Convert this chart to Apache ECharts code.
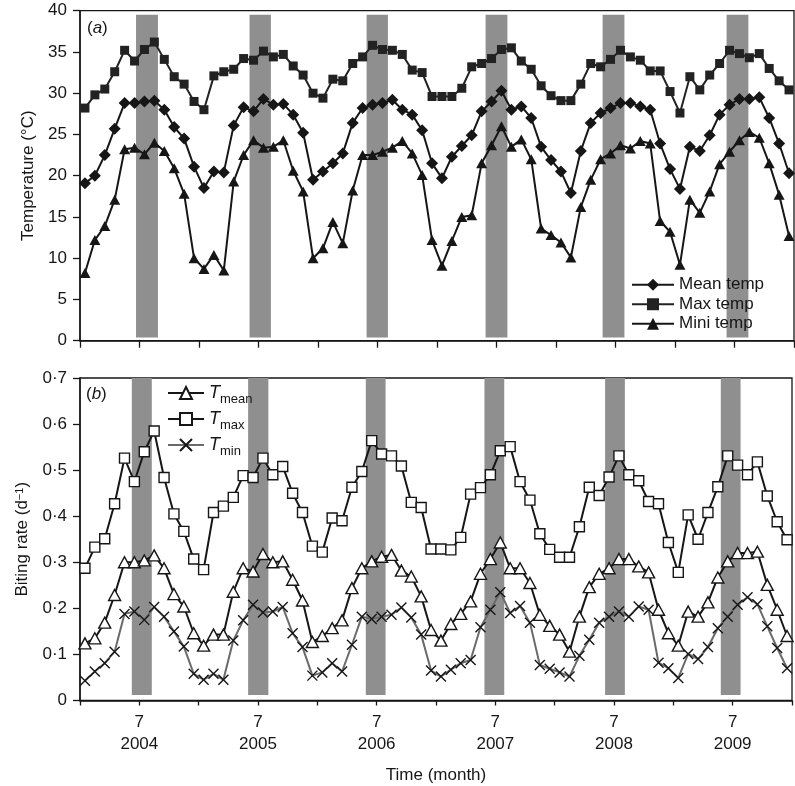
<!DOCTYPE html>
<html><head><meta charset="utf-8">
<script src="https://cdn.jsdelivr.net/npm/echarts@6/dist/echarts.min.js"></script>
<style>html,body{margin:0;padding:0;background:#fff}#c{width:795px;height:786px}</style>
</head><body><div id="c"></div>
<script>
// x axis: Jan 2004 .. Dec 2009 (72 months), labels at July of each year
const years = [2004, 2005, 2006, 2007, 2008, 2009];
const tickMonth = '7';

// Panel (a): temperature (°C)
const meanTemp = [19.1,20.0,22.5,25.7,28.8,28.8,29.0,29.1,28.0,25.9,24.5,21.1,
  18.5,20.5,20.4,26.1,28.3,27.8,29.3,28.6,28.7,27.4,25.2,19.5,
  20.5,21.5,22.7,26.4,28.2,28.6,28.8,29.2,28.0,27.4,25.5,21.5,
  19.7,22.3,23.6,24.9,27.8,29.0,30.3,28.0,28.4,27.0,23.5,21.9,
  20.5,17.9,23.0,26.4,27.6,28.2,28.8,28.8,28.4,28.0,23.9,20.8,
  18.4,23.5,23.0,24.9,27.4,28.6,29.3,29.3,29.5,27.0,23.9,20.3];
const maxTemp = [28.2,29.8,30.5,32.6,35.2,33.9,35.3,36.2,34.1,32.0,31.1,29.0,
  28.0,32.1,32.6,32.9,34.2,34.0,35.1,34.4,34.7,33.3,32.2,30.0,
  29.4,31.7,31.5,33.6,34.4,35.8,35.3,35.2,34.7,32.8,32.5,29.6,
  29.6,29.6,30.6,33.2,33.6,34.2,35.3,35.5,33.9,32.9,30.9,29.7,
  29.1,29.1,31.1,33.6,33.2,34.1,35.2,34.4,34.0,32.7,32.7,30.2,
  27.6,32.0,30.4,32.2,33.6,35.2,34.8,34.3,34.8,33.0,31.5,30.4];
const minTemp = [8.2,12.2,13.9,17.1,23.2,23.4,22.6,24.0,23.0,20.9,17.8,10.0,
  8.7,10.4,8.5,19.3,22.5,24.3,23.4,23.5,24.3,20.6,18.1,10.0,
  11.2,14.4,11.8,18.2,22.5,22.5,22.9,23.4,24.2,22.7,20.1,12.2,
  9.1,12.1,15.0,15.2,21.5,23.7,26.0,23.5,24.4,22.0,13.6,12.8,
  11.9,10.1,16.2,19.5,22.0,22.7,23.7,23.3,24.2,23.9,14.5,13.2,
  9.2,17.1,15.5,18.1,21.4,22.9,24.3,25.3,24.6,21.5,17.7,12.7];

// Panel (b): biting rate (per day)
const biteMean = [0.124,0.135,0.169,0.229,0.300,0.300,0.304,0.315,0.287,0.231,0.204,0.146,
  0.119,0.143,0.143,0.236,0.287,0.280,0.318,0.300,0.302,0.262,0.217,0.127,
  0.140,0.157,0.174,0.244,0.287,0.302,0.312,0.316,0.282,0.269,0.226,0.153,
  0.130,0.166,0.188,0.215,0.275,0.307,0.343,0.287,0.287,0.255,0.186,0.162,
  0.143,0.106,0.182,0.246,0.275,0.287,0.307,0.307,0.291,0.278,0.197,0.146,
  0.119,0.193,0.182,0.213,0.267,0.302,0.320,0.320,0.323,0.251,0.197,0.140];
const biteMax = [0.287,0.333,0.351,0.427,0.526,0.475,0.540,0.585,0.484,0.405,0.367,0.307,
  0.284,0.408,0.422,0.441,0.488,0.484,0.526,0.490,0.508,0.450,0.408,0.335,
  0.322,0.396,0.390,0.463,0.497,0.564,0.535,0.531,0.509,0.430,0.419,0.329,
  0.329,0.327,0.354,0.448,0.462,0.490,0.542,0.551,0.475,0.435,0.362,0.328,
  0.311,0.311,0.377,0.463,0.445,0.485,0.531,0.490,0.477,0.432,0.427,0.343,
  0.278,0.403,0.350,0.408,0.464,0.531,0.511,0.490,0.518,0.444,0.388,0.349];
const biteMin = [0.043,0.063,0.081,0.106,0.188,0.193,0.175,0.203,0.182,0.150,0.117,0.058,
  0.045,0.058,0.045,0.130,0.174,0.208,0.191,0.193,0.203,0.146,0.116,0.054,
  0.061,0.081,0.063,0.121,0.182,0.177,0.182,0.186,0.202,0.180,0.143,0.065,
  0.052,0.067,0.081,0.088,0.159,0.197,0.235,0.190,0.205,0.169,0.077,0.069,
  0.061,0.052,0.097,0.132,0.169,0.182,0.193,0.182,0.204,0.197,0.082,0.070,
  0.049,0.101,0.090,0.116,0.157,0.182,0.208,0.224,0.209,0.161,0.114,0.070];

// Shaded periods (in months from Jan 2004)
const shadeTop = [[5.65,7.86],[17.1,19.25],[28.9,31.05],[40.9,43.1],[52.7,54.9],[65.2,67.4]];
const shadeBottom = [[5.24,7.26],[17.0,19.05],[28.9,30.9],[40.9,42.9],[53.1,55.1],[64.8,66.8]];

const FONT = "'Liberation Sans', Arial, sans-serif";
const INK = '#161616';
const pts = arr => arr.map((v, i) => [i + 0.5, v]);

const chart = echarts.init(document.getElementById('c'), null, {renderer: 'canvas'});

const xCommon = (gi, showLabels) => ({
  type: 'value', gridIndex: gi, min: 0, max: 72, interval: 6,
  axisLine: {show: true, lineStyle: {color: INK, width: 1.5}},
  axisTick: {show: true, inside: false, length: gi === 0 ? 7 : 5, lineStyle: {color: INK, width: 1.3}},
  splitLine: {show: false},
  axisLabel: {
    show: showLabels, margin: 11, fontSize: 17, lineHeight: 21.6, color: INK, fontFamily: FONT,
    formatter: v => (v % 12 === 6) ? tickMonth + '\n' + years[(v - 6) / 12] : ''
  }
});

const X_SYMBOL = 'path://M0,0L10,10M0,10L10,0';

const option = {
  animation: false,
  backgroundColor: '#fff',
  textStyle: {fontFamily: FONT},
  grid: [
    {left: 80, width: 714, top: 10.7, height: 330, show: true, borderColor: INK, borderWidth: 1.3, backgroundColor: 'transparent'},
    {left: 80, width: 714, top: 378, height: 322.5, show: true, borderColor: INK, borderWidth: 1.3, backgroundColor: 'transparent'}
  ],
  xAxis: [
    xCommon(0, false),
    Object.assign(xCommon(1, true), {
      name: 'Time (month)', nameLocation: 'middle', nameGap: 66,
      nameTextStyle: {fontSize: 17, color: INK, fontFamily: FONT}
    })
  ],
  yAxis: [
    {
      type: 'value', gridIndex: 0, min: 0, max: 40, interval: 5,
      name: 'Temperature (°C)', nameLocation: 'middle', nameGap: 43,
      nameTextStyle: {fontSize: 17, color: INK, fontFamily: FONT},
      axisLine: {show: true, lineStyle: {color: INK, width: 1.5}},
      axisTick: {show: true, inside: false, length: 7, lineStyle: {color: INK, width: 1.3}},
      splitLine: {show: false},
      axisLabel: {margin: 13, fontSize: 17, color: INK, fontFamily: FONT}
    },
    {
      type: 'value', gridIndex: 1, min: 0, max: 0.7, interval: 0.1,
      name: 'Biting rate (d{sup|−1})', nameLocation: 'middle', nameGap: 49,
      nameTextStyle: {fontSize: 17, color: INK, fontFamily: FONT,
        rich: {sup: {fontSize: 11, verticalAlign: 'top', color: INK, fontFamily: FONT}}},
      axisLine: {show: true, lineStyle: {color: INK, width: 1.5}},
      axisTick: {show: true, inside: false, length: 7, lineStyle: {color: INK, width: 1.3}},
      splitLine: {show: false},
      axisLabel: {margin: 13, fontSize: 17, color: INK, fontFamily: FONT,
        formatter: v => v === 0 ? '0' : v.toFixed(1).replace('.', '·')}
    }
  ],
  legend: [
    {
      data: ['Mean temp', 'Max temp', 'Mini temp'],
      orient: 'vertical', left: 631, top: 275, padding: 0,
      itemWidth: 42, itemHeight: 15, itemGap: 0,
      textStyle: {fontSize: 17, lineHeight: 19.5, color: INK, fontFamily: FONT},
      selectedMode: false
    },
    {
      data: ['Tmean', 'Tmax', 'Tmin'],
      orient: 'vertical', left: 167, top: 380, padding: 0,
      itemWidth: 36, itemHeight: 15, itemGap: 0,
      selectedMode: false,
      formatter: n => '{i|T}{s|' + n.slice(1) + '}',
      textStyle: {fontSize: 17, lineHeight: 26, color: INK, fontFamily: FONT,
        rich: {
          i: {fontSize: 18, fontStyle: 'italic', color: INK, fontFamily: FONT},
          s: {fontSize: 13, verticalAlign: 'bottom', lineHeight: 22, color: INK, fontFamily: FONT}
        }}
    }
  ],
  graphic: [
    {type: 'text', left: 87, top: 20, style: {text: '({i|a})', fontSize: 17, fill: INK, fontFamily: FONT,
      rich: {i: {fontStyle: 'italic', fontSize: 17, fill: INK, fontFamily: FONT}}}},
    {type: 'text', left: 86, top: 386, style: {text: '({i|b})', fontSize: 17, fill: INK, fontFamily: FONT,
      rich: {i: {fontStyle: 'italic', fontSize: 17, fill: INK, fontFamily: FONT}}}}
  ],
  series: [
    {
      name: 'Mean temp', type: 'line', xAxisIndex: 0, yAxisIndex: 0, z: 4,
      data: pts(meanTemp), symbol: 'diamond', symbolSize: [12, 12],
      lineStyle: {color: INK, width: 2}, itemStyle: {color: INK},
      markArea: {
        silent: true, z: 1, itemStyle: {color: '#8f8f8f', opacity: 1},
        data: shadeTop.map(r => [{xAxis: r[0], yAxis: 0.4}, {xAxis: r[1], yAxis: 39.5}])
      }
    },
    {
      name: 'Max temp', type: 'line', xAxisIndex: 0, yAxisIndex: 0, z: 4,
      data: pts(maxTemp), symbol: 'rect', symbolSize: 9,
      lineStyle: {color: '#222', width: 2}, itemStyle: {color: '#222'}
    },
    {
      name: 'Mini temp', type: 'line', xAxisIndex: 0, yAxisIndex: 0, z: 4,
      data: pts(minTemp), symbol: 'triangle', symbolSize: [11, 10],
      lineStyle: {color: INK, width: 2}, itemStyle: {color: INK}
    },
    {
      name: 'Tmean', type: 'line', xAxisIndex: 1, yAxisIndex: 1, z: 4,
      data: pts(biteMean), symbol: 'triangle', symbolSize: [12, 11],
      lineStyle: {color: INK, width: 2},
      itemStyle: {color: '#fff', borderColor: INK, borderWidth: 1.4},
      markArea: {
        silent: true, z: 1, itemStyle: {color: '#8f8f8f', opacity: 1},
        data: shadeBottom.map(r => [{xAxis: r[0], yAxis: 0.012}, {xAxis: r[1], yAxis: 0.7}])
      }
    },
    {
      name: 'Tmax', type: 'line', xAxisIndex: 1, yAxisIndex: 1, z: 4,
      data: pts(biteMax), symbol: 'rect', symbolSize: 10,
      lineStyle: {color: INK, width: 2},
      itemStyle: {color: '#fff', borderColor: INK, borderWidth: 1.4}
    },
    {
      name: 'Tmin', type: 'line', xAxisIndex: 1, yAxisIndex: 1, z: 3,
      data: pts(biteMin), symbol: X_SYMBOL, symbolSize: 10,
      lineStyle: {color: '#6a6a6a', width: 2},
      itemStyle: {color: INK, borderColor: INK, borderWidth: 1.4}
    }
  ]
};
chart.setOption(option);
</script>
</body></html>
